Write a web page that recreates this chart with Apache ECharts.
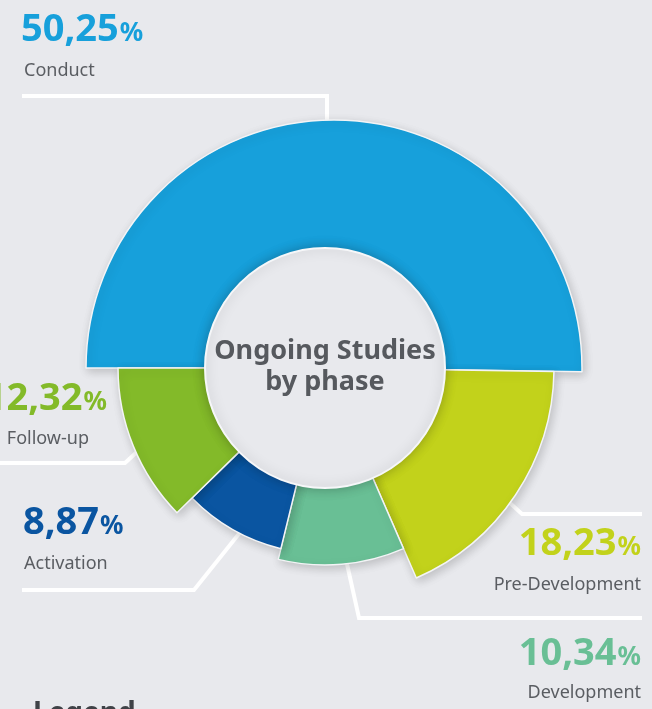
<!DOCTYPE html>
<html><head><meta charset="utf-8">
<script src="https://cdn.jsdelivr.net/npm/echarts@6/dist/echarts.min.js"></script>
<style>html,body{margin:0;padding:0;background:#e8e9ed;}#c{width:652px;height:709px;}</style>
</head><body><div id="c"></div>
<script>
// ---- data ----
const categories = ['Conduct', 'Pre-Development', 'Development', 'Activation', 'Follow-up'];
const values = [50.25, 18.23, 10.34, 8.87, 12.32];
const centerTitle = ['Ongoing Studies', 'by phase'];
const legendTitle = 'Legend';

// ---- styles / layout ----
const colors = ['#17a0db', '#c2d21b', '#69bf95', '#0a55a1', '#83ba29'];
const outerR = [248, 229, 197, 186, 207];
const centers = [[334, 368], [325, 368], [325, 368], [325, 368], [325, 368]];
const labelLayout = [
  {vx: 21, vy: 28, nx: 24, ny: 71, align: 'left', line: [[22, 96], [327, 96], [327, 125]]},
  {vx: 641, vy: 542, nx: 641, ny: 585, align: 'right', line: [[642, 514], [522, 514], [500, 494]]},
  {vx: 641, vy: 652, nx: 641, ny: 693, align: 'right', line: [[642, 618], [359, 618], [345, 555]]},
  {vx: 23, vy: 521, nx: 24, ny: 564, align: 'left', line: [[22, 590], [194, 590], [242, 530]]},
  {vx: 107, vy: 397, nx: 89, ny: 439, align: 'right', line: [[0, 463], [125, 463], [140, 449]]}
];
const FONT = '"Noto Sans", "Open Sans", sans-serif';

function fmt(v) { return v.toFixed(2).replace('.', ','); }

const series = categories.map((name, k) => ({
  type: 'pie',
  center: centers[k],
  radius: [100, outerR[k]],
  startAngle: 180,
  clockwise: true,
  silent: true,
  animation: false,
  z: 2,
  label: {show: false},
  labelLine: {show: false},
  emphasis: {disabled: true},
  data: categories.map((n, i) => ({
    name: n,
    value: values[i],
    itemStyle: i === k
      ? {color: colors[i], borderColor: '#f3f4f6', borderWidth: 1.5,
         shadowBlur: 10, shadowOffsetX: 2, shadowOffsetY: 3, shadowColor: 'rgba(0,0,0,0.18)'}
      : {color: 'rgba(0,0,0,0)', borderWidth: 0}
  }))
}));

const graphics = [];
categories.forEach((name, i) => {
  const L = labelLayout[i];
  graphics.push({
    type: 'polyline', z: 1, silent: true,
    shape: {points: L.line},
    style: {stroke: '#ffffff', lineWidth: 4, fill: null}
  });
  graphics.push({
    type: 'text', z: 20, silent: true, x: L.vx, y: L.vy,
    style: {
      text: '{n|' + fmt(values[i]) + '}{p|%}',
      align: L.align, verticalAlign: 'middle',
      rich: {
        n: {fontFamily: FONT, fontWeight: 'bold', fontSize: 38, lineHeight: 42, fill: colors[i], verticalAlign: 'bottom'},
        p: {fontFamily: FONT, fontWeight: 'bold', fontSize: 26, lineHeight: 42, fill: colors[i], verticalAlign: 'bottom', padding: [0, 0, 2, 1]}
      }
    }
  });
  graphics.push({
    type: 'text', z: 20, silent: true, x: L.nx, y: L.ny,
    style: {text: name, align: L.align, verticalAlign: 'middle',
            fontFamily: FONT, fontSize: 18, fill: '#5a5d62'}
  });
});
graphics.push({
  type: 'circle', z: 10, silent: true,
  shape: {cx: 325, cy: 368, r: 120},
  style: {fill: '#e8e9ed', stroke: '#f6f7f9', lineWidth: 2,
          shadowBlur: 12, shadowColor: 'rgba(0,0,0,0.25)'}
});
graphics.push({
  type: 'text', z: 20, silent: true, x: 325, y: 367,
  style: {text: centerTitle.join('\n'), align: 'center', verticalAlign: 'middle',
          fontFamily: FONT, fontWeight: 'bold', fontSize: 27, lineHeight: 31, fill: '#56595e'}
});
graphics.push({
  type: 'text', z: 20, silent: true, x: 33, y: 714,
  style: {text: legendTitle, align: 'left', verticalAlign: 'middle',
          fontFamily: FONT, fontWeight: 'bold', fontSize: 28, fill: '#3f4247'}
});

const chart = echarts.init(document.getElementById('c'), null, {renderer: 'canvas'});
chart.setOption({
  backgroundColor: '#e8e9ed',
  animation: false,
  series: series,
  graphic: {elements: graphics}
});
</script>
</body></html>
